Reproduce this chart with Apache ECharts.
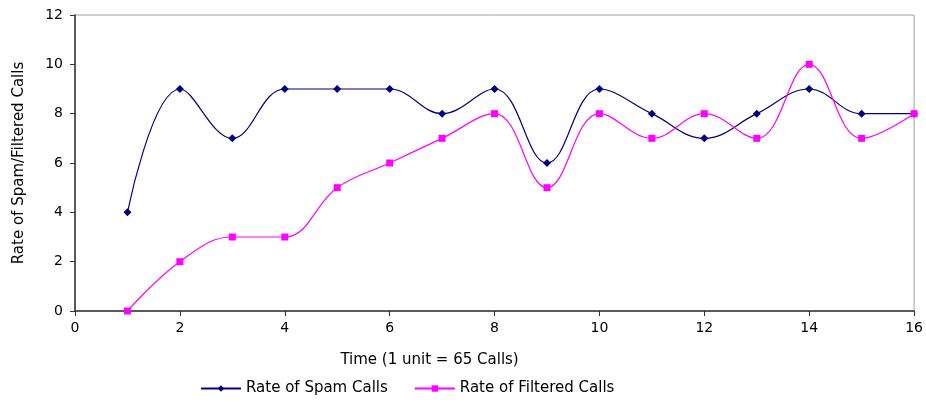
<!DOCTYPE html>
<html><head><meta charset="utf-8">
<script src="https://cdn.jsdelivr.net/npm/echarts@6/dist/echarts.min.js"></script>
<style>html,body{margin:0;padding:0;background:#fff}#c{width:926px;height:402px}</style>
</head><body><div id="c"></div>
<script>
const timeUnits = [1,2,3,4,5,6,7,8,9,10,11,12,13,14,15,16];
const spamRates = [4,9,7,9,9,9,8,9,6,9,8,7,8,9,8,8];
const filteredRates = [0,2,3,3,5,6,7,8,5,8,7,8,7,10,7,8];
const xTicks = [0,2,4,6,8,10,12,14,16];
const yTicks = [0,2,4,6,8,10,12];

const font = 'DejaVu Sans, Arial, sans-serif';
const chart = echarts.init(document.getElementById('c'));
chart.setOption({
  backgroundColor: '#fff',
  animation: false,
  grid: {left: 75, right: 8, top: 15, bottom: 91, show: true, borderColor: '#a0a0a0', borderWidth: 1},
  legend: {
    bottom: 1, left: 195, itemGap: 26, itemWidth: 40, itemHeight: 8,
    textStyle: {fontFamily: font, fontSize: 15, color: '#000'},
    data: ['Rate of Spam Calls', 'Rate of Filtered Calls']
  },
  xAxis: {
    type: 'value', min: xTicks[0], max: xTicks[xTicks.length-1], interval: 2,
    name: 'Time (1 unit = 65 Calls)', nameLocation: 'middle', nameGap: 42,
    nameTextStyle: {fontFamily: font, fontSize: 15, color: '#000', padding: [0, 130, 0, 0]},
    axisLine: {lineStyle: {color: '#333', width: 1.5}},
    axisTick: {show: true, length: 5, lineStyle: {color: '#333'}},
    axisLabel: {fontFamily: font, fontSize: 14, color: '#000', margin: 10},
    splitLine: {show: false}
  },
  yAxis: {
    type: 'value', min: yTicks[0], max: yTicks[yTicks.length-1], interval: 2,
    name: 'Rate of Spam/Filtered Calls', nameLocation: 'middle', nameGap: 48,
    nameTextStyle: {fontFamily: font, fontSize: 15, color: '#000'},
    axisLine: {show: true, lineStyle: {color: '#333', width: 1.5}},
    axisTick: {show: true, length: 5, lineStyle: {color: '#333'}},
    axisLabel: {fontFamily: font, fontSize: 14, color: '#000', margin: 12},
    splitLine: {show: false}
  },
  series: [
    {
      name: 'Rate of Spam Calls', type: 'line', smooth: 0.4,
      data: timeUnits.map((t,i)=>[t, spamRates[i]]),
      symbol: 'diamond', symbolSize: 8,
      itemStyle: {color: '#000080'}, lineStyle: {color: '#000080', width: 1.2}
    },
    {
      name: 'Rate of Filtered Calls', type: 'line', smooth: 0.4,
      data: timeUnits.map((t,i)=>[t, filteredRates[i]]),
      symbol: 'rect', symbolSize: 7,
      itemStyle: {color: '#ff00ff'}, lineStyle: {color: '#ff00ff', width: 1.2}
    }
  ]
});
</script></body></html>
